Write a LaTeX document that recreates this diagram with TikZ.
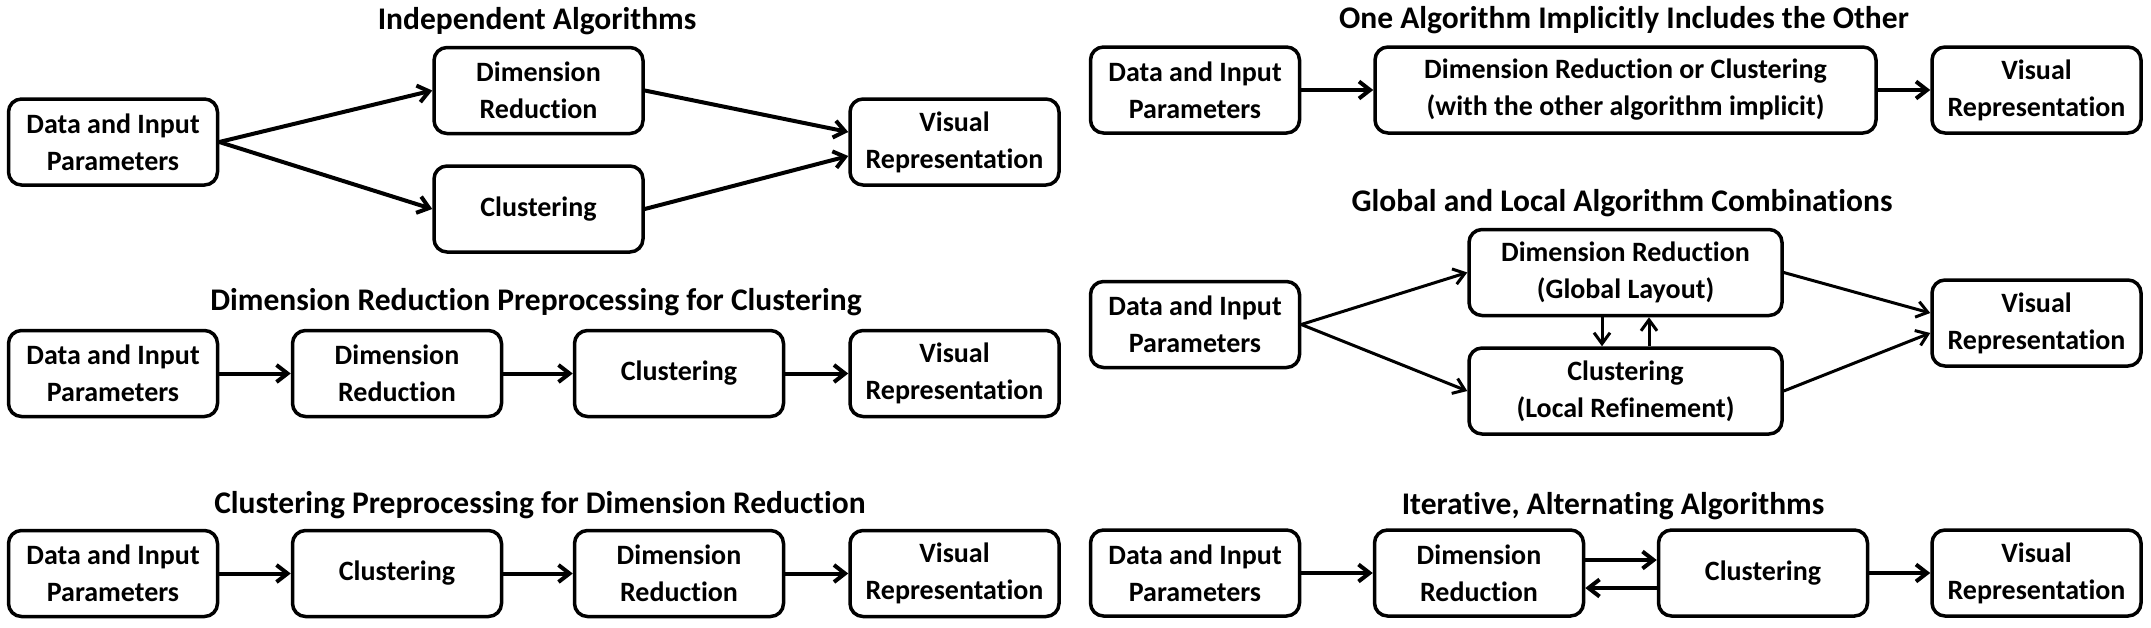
\documentclass[tikz,border=0pt]{standalone}
\usepackage{fontspec}
\setmainfont[Ligatures=NoCommon]{Carlito}
\usetikzlibrary{arrows.meta}
\begin{document}
\begin{tikzpicture}[x=1pt,y=-1pt,
  box/.style={draw, line width=3.5pt, rounded corners=13pt, align=center, inner sep=0pt,
    minimum height=86pt, minimum width=209pt, font=\bfseries\fontsize{28}{37}\selectfont},
  ttl/.style={font=\bfseries\fontsize{31.5}{36}\selectfont, anchor=base},
  arr/.style={line width=4pt, -{Straight Barb[length=11pt,width=17pt]}},
  thinarr/.style={line width=3pt, -{Straight Barb[length=11pt,width=16pt]}}]
\useasboundingbox[fill=white] (0,0) rectangle (2151,627);
% ---------- Independent Algorithms
\node[ttl] (t1) at (537,29) {Independent Algorithms};
\node[box] (a1) at (113,142) {Data and Input\\Parameters};
\node[box] (a2) at (538.5,90.5) {Dimension\\Reduction};
\node[box] (a3) at (538.5,209) {Clustering};
\node[box] (a4) at (954.5,142) {Visual\\Representation};
\draw[arr] (a1.east) -- (a2.west);
\draw[arr] (a1.east) -- (a3.west);
\draw[arr] (a2.east) -- ([yshift=10pt]a4.west);
\draw[arr] (a3.east) -- ([yshift=-14pt]a4.west);
% ---------- DR preprocessing for clustering
\node[ttl] (t2) at (536,310) {Dimension Reduction Preprocessing for Clustering};
\node[box] (b1) at (113,373.5) {Data and Input\\Parameters};
\node[box] (b2) at (397,373.5) {Dimension\\Reduction};
\node[box] (b3) at (679,373.5) {Clustering};
\node[box] (b4) at (954.5,373.5) {Visual\\Representation};
\draw[arr] (b1) -- (b2);
\draw[arr] (b2) -- (b3);
\draw[arr] (b3) -- (b4);
% ---------- Clustering preprocessing for DR
\node[ttl] (t3) at (540,513) {Clustering Preprocessing for Dimension Reduction};
\node[box] (c1) at (113,573.5) {Data and Input\\Parameters};
\node[box] (c2) at (397,573.5) {Clustering};
\node[box] (c3) at (679,573.5) {Dimension\\Reduction};
\node[box] (c4) at (954.5,573.5) {Visual\\Representation};
\draw[arr] (c1) -- (c2);
\draw[arr] (c2) -- (c3);
\draw[arr] (c3) -- (c4);
% ---------- One algorithm implicitly includes the other
\node[ttl] (t4) at (1624,28) {One Algorithm Implicitly Includes the Other};
\node[box] (d1) at (1195,90) {Data and Input\\Parameters};
\node[box, minimum width=501pt] (d2) at (1625.5,90) {Dimension Reduction or Clustering\\(with the other algorithm implicit)};
\node[box] (d3) at (2036.5,90) {Visual\\Representation};
\draw[arr] (d1) -- (d2);
\draw[arr] (d2) -- (d3);
% ---------- Global and local
\node[ttl] (t5) at (1622,211) {Global and Local Algorithm Combinations};
\node[box] (e1) at (1195,324.5) {Data and Input\\Parameters};
\node[box, minimum width=313pt] (e2) at (1625.5,272.5) {Dimension Reduction\\(Global Layout)};
\node[box, minimum width=313pt] (e3) at (1625.5,391) {Clustering\\(Local Refinement)};
\node[box] (e4) at (2036.5,323) {Visual\\Representation};
\draw[thinarr] (e1.east) -- (e2.west);
\draw[thinarr] (e1.east) -- (e3.west);
\draw[thinarr] (e2.east) -- ([yshift=10pt]e4.west);
\draw[thinarr] (e3.east) -- ([yshift=-10pt]e4.west);
\draw[thinarr] ([xshift=-23.5pt]e2.south) -- ([xshift=-23.5pt]e3.north);
\draw[thinarr] ([xshift=23.5pt]e3.north) -- ([xshift=23.5pt]e2.south);
% ---------- Iterative
\node[ttl] (t6) at (1613,514) {Iterative, Alternating Algorithms};
\node[box] (f1) at (1195,573) {Data and Input\\Parameters};
\node[box] (f2) at (1479,573) {Dimension\\Reduction};
\node[box] (f3) at (1763,573) {Clustering};
\node[box] (f4) at (2036.5,573) {Visual\\Representation};
\draw[arr] (f1) -- (f2);
\draw[arr] ([yshift=13pt]f2.east) -- ([yshift=13pt]f3.west);
\draw[arr] ([yshift=-15pt]f3.west) -- ([yshift=-15pt]f2.east);
\draw[arr] (f3) -- (f4);
\end{tikzpicture}
\end{document}
